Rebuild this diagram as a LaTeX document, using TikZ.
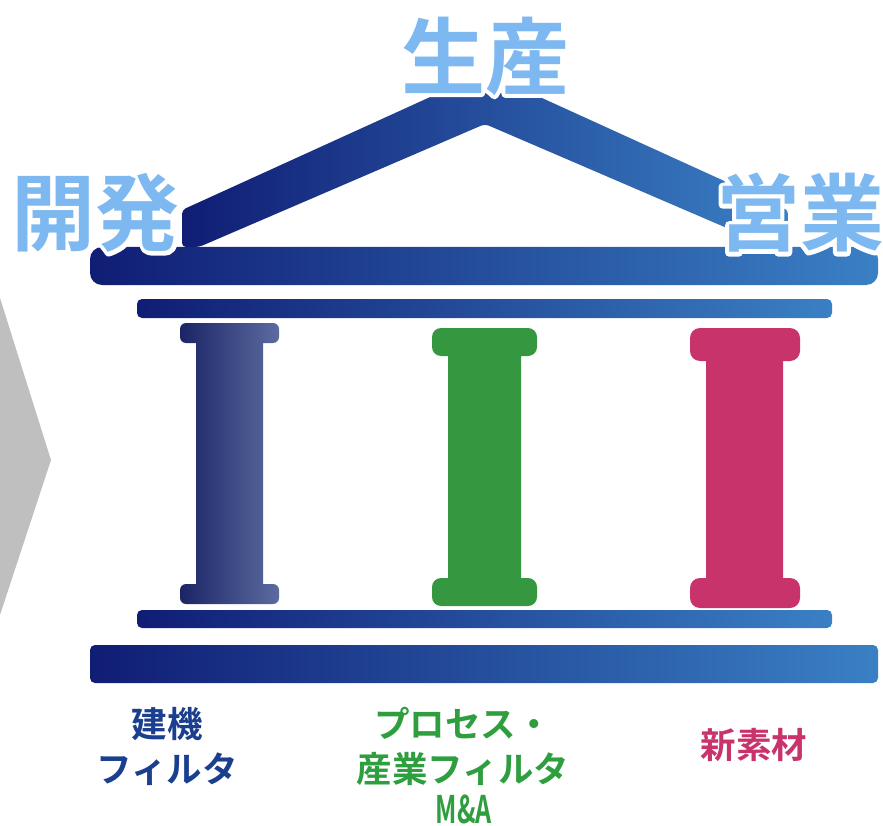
\documentclass[tikz,border=0pt]{standalone}
\usepackage{fontspec}
\newfontfamily\cjkb{Noto Sans CJK JP Bold}
\usetikzlibrary{calc}
\definecolor{navyL}{HTML}{101D74}
\definecolor{navyR}{HTML}{3A80C4}
\definecolor{colL}{HTML}{1B2566}
\definecolor{colR}{HTML}{5C6BA0}
\definecolor{pgreen}{HTML}{369741}
\definecolor{ppink}{HTML}{C8336B}
\definecolor{skyt}{HTML}{7DB9F0}
\definecolor{lblue}{HTML}{1B3F8F}
\definecolor{lgreen}{HTML}{2E9E3F}
\definecolor{lpink}{HTML}{C8336B}
\definecolor{chev}{HTML}{BFBFBF}
\newcommand\haloed[1]{\rlap{\color{white}\special{pdf:literal direct 2 Tr 8 w 1 j}#1\special{pdf:literal direct 0 Tr 1 w}}#1}
\tikzset{
  bigtxt/.style={font=\cjkb\fontsize{84}{84}\selectfont, text=skyt, inner sep=0pt},
  smalltxt/.style={font=\cjkb\fontsize{35.5}{45}\selectfont, inner sep=0pt, align=center},
  bargrad/.style={left color=navyL, right color=navyR}
}
\begin{document}
\begin{tikzpicture}[x=1pt,y=-1pt]
\useasboundingbox (0,0) rectangle (883,826);
% chevron
\fill[chev] (0,298) -- (51,460) -- (0,615) -- cycle;
% roof
\shade[bargrad, rounded corners=4pt] (182,247) -- (182,210) -- (439,93) -- (531,93) -- (788,210) -- (788,247) -- (771,247) -- (485,124) -- (199,247) -- cycle;
% cornice
\shade[bargrad, rounded corners=12pt] (90,247) rectangle (878,285);
% architrave
\shade[bargrad, rounded corners=5pt] (137,299) rectangle (832,318);
% pillars
\shade[left color=colL, right color=colR] [rounded corners=6pt] (180,323) rectangle (279,343) [sharp corners] (196,340) rectangle (263,588) [rounded corners=6pt] (180,584) rectangle (279,604);
\fill[pgreen] [rounded corners=9pt] (432,328) rectangle (537,356) [sharp corners] (448,350) rectangle (521,584) [rounded corners=9pt] (432,578) rectangle (537,606);
\fill[ppink] [rounded corners=10pt] (690,328) rectangle (800,361) [sharp corners] (706,355) rectangle (783,586) [rounded corners=10pt] (690,578) rectangle (800,608);
% stylobate
\shade[bargrad, rounded corners=5pt] (137,610) rectangle (832,628);
% base
\shade[bargrad, rounded corners=5pt] (90,645) rectangle (878,683);
% big labels with white halo
\node[bigtxt] (seisan) at (485,56) {\haloed{生産}};
\node[bigtxt] (kaihatsu) at (96,213) {\haloed{開発}};
\node[bigtxt] (eigyo) at (800,213) {\haloed{営業}};
% bottom labels
\node[smalltxt, text=lblue] (kenki) at (167,746) {建機\\フィルタ};
\node[smalltxt, text=lgreen] (process) at (463,746) {プロセス・\\産業フィルタ};
\node[smalltxt, text=lgreen, font=\cjkb\fontsize{38}{38}\selectfont] (ma) at (464,809) {\scalebox{0.66}[1]{M\&A}};
\node[smalltxt, text=lpink] (shinsozai) at (754,745) {新素材};
\end{tikzpicture}
\end{document}
